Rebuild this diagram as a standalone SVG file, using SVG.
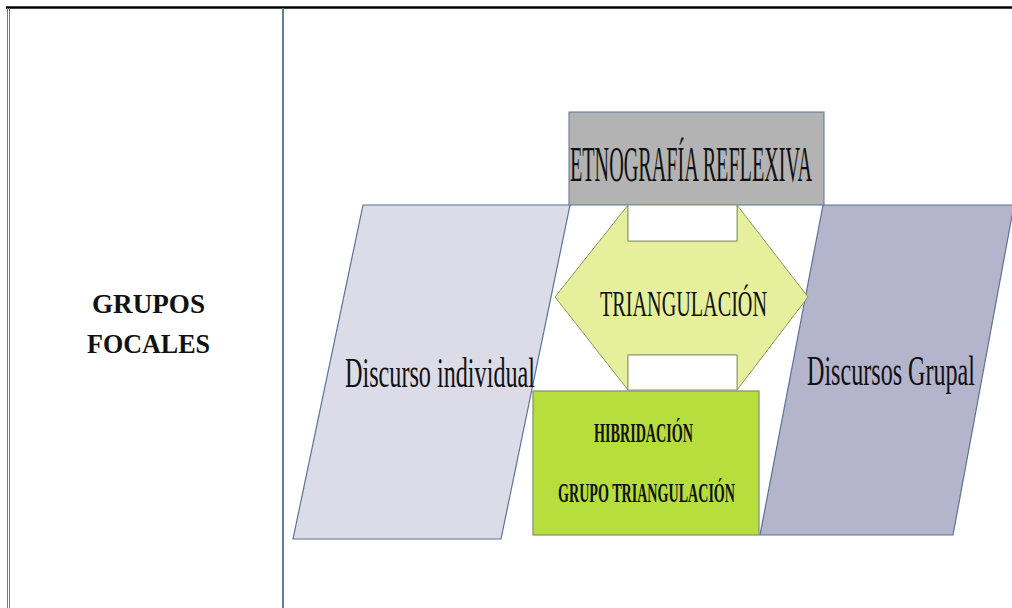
<svg xmlns="http://www.w3.org/2000/svg" width="1012" height="608" viewBox="0 0 1012 608">
<style>
.serif{font-family:"Liberation Serif","DejaVu Serif",serif;fill:#111}
.bold{font-weight:bold}
.tbl{stroke:#5b80a8;fill:none}
</style>
<rect x="0" y="0" width="1012" height="608" fill="#ffffff"/>
<g id="table">
<line x1="6" y1="7.5" x2="1012" y2="7.5" stroke="#000" stroke-width="2.5"/>
<line class="tbl" x1="7.5" y1="8" x2="7.5" y2="608" stroke-width="1"/>
<line class="tbl" x1="9.5" y1="8" x2="9.5" y2="608" stroke-width="1"/>
<line class="tbl" x1="283" y1="8" x2="283" y2="608" stroke-width="2"/>
</g>
<g id="grupos-focales">
<text class="serif bold" x="92" y="313" font-size="27" textLength="113" lengthAdjust="spacingAndGlyphs">GRUPOS</text>
<text class="serif bold" x="87" y="353" font-size="27" textLength="123" lengthAdjust="spacingAndGlyphs">FOCALES</text>
</g>
<g id="discurso-individual">
<polygon points="363,205 570,205 501,539 293,539" fill="#dcdce8" stroke="#5b7396" stroke-width="1.2"/>
<text class="serif" x="345" y="387" font-size="43" textLength="190" lengthAdjust="spacingAndGlyphs">Discurso individual</text>
</g>
<g id="discursos-grupal">
<polygon points="823,205 1014,205 953,535 760,535" fill="#b4b4cc" stroke="#5b7396" stroke-width="1.2"/>
<text class="serif" x="807" y="385" font-size="43" textLength="168" lengthAdjust="spacingAndGlyphs">Discursos Grupal</text>
</g>
<g id="etnografia">
<rect x="569" y="112" width="255" height="93" fill="#b3b3b3" stroke="#5b7396" stroke-width="1"/>
<text class="serif" x="570" y="181" font-size="51" textLength="242" lengthAdjust="spacingAndGlyphs">ETNOGRAFÍA REFLEXIVA</text>
</g>
<g id="triangulacion">
<polygon points="555,297 628,205 628,241 737,241 737,205 808,297 737,390 737,355 628,355 628,390" fill="#e6ef9c" stroke="#8a9a6a" stroke-width="1"/>
<rect x="628" y="205" width="109" height="36" fill="#ffffff" stroke="#8a9a6a" stroke-width="1"/>
<rect x="628" y="355" width="109" height="35" fill="#ffffff" stroke="#8a9a6a" stroke-width="1"/>
<text class="serif" x="600" y="316" font-size="35" textLength="167" lengthAdjust="spacingAndGlyphs">TRIANGULACIÓN</text>
</g>
<g id="hibridacion">
<rect x="533" y="391" width="226" height="144" fill="#b6de3c" stroke="#7f8f70" stroke-width="1.2"/>
<text class="serif bold" x="594" y="442" font-size="28" textLength="99" lengthAdjust="spacingAndGlyphs">HIBRIDACIÓN</text>
<text class="serif bold" x="558" y="502" font-size="28" textLength="177" lengthAdjust="spacingAndGlyphs">GRUPO TRIANGULACIÓN</text>
</g>
<g id="connectors"></g>
</svg>
